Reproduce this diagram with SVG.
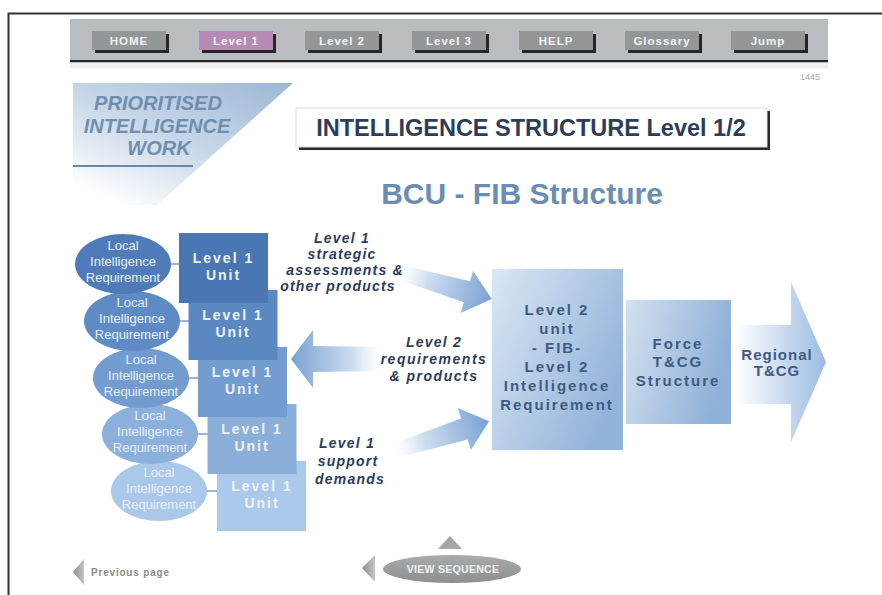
<svg xmlns="http://www.w3.org/2000/svg" width="882" height="595" viewBox="0 0 882 595">
  <defs>
    <style>
      text { font-family: "Liberation Sans", Arial, sans-serif; }
      .navtxt { font-size: 11.5px; font-weight: bold; fill: #f4f4f4; text-anchor: middle; letter-spacing: 1px; }
      .navbtn { fill: #939798; }
      .navshadow { fill: #262626; }
      .banner { font-size: 20px; font-weight: bold; font-style: italic; fill: #6f8fb0; text-anchor: middle; }
      .lir { font-size: 13px; fill: #e9f0f8; text-anchor: middle; }
      .unit { font-size: 14px; font-weight: bold; fill: #eef3fa; text-anchor: middle; letter-spacing: 2px; }
      .flow { font-size: 14px; font-weight: bold; font-style: italic; fill: #2b3d5c; text-anchor: middle; letter-spacing: 1.2px; }
      .flow.wide { letter-spacing: 1.5px; }
      .boxtxt { font-size: 15px; font-weight: bold; fill: #3e5b82; text-anchor: middle; letter-spacing: 2px; }
      .boxtxt.tight { letter-spacing: 1px; }
      .link { stroke: #3f6aa0; stroke-width: 1; }
    </style>
    <linearGradient id="bannerGrad" x1="1" y1="0" x2="0.2" y2="1">
      <stop offset="0" stop-color="#9db7d5"/>
      <stop offset="0.55" stop-color="#c9d8e8"/>
      <stop offset="1" stop-color="#ffffff"/>
    </linearGradient>
    <linearGradient id="flowGrad" x1="0" y1="0" x2="1" y2="0">
      <stop offset="0" stop-color="#ffffff" stop-opacity="0"/>
      <stop offset="0.35" stop-color="#cfdef0"/>
      <stop offset="1" stop-color="#7aa2d3"/>
    </linearGradient>
    <linearGradient id="regionGrad" x1="0" y1="0" x2="1" y2="0">
      <stop offset="0" stop-color="#ffffff"/>
      <stop offset="1" stop-color="#9cbbe0"/>
    </linearGradient>
    <linearGradient id="l2Grad" x1="0" y1="0" x2="1" y2="0.6">
      <stop offset="0" stop-color="#dbe7f4"/>
      <stop offset="1" stop-color="#92b3da"/>
    </linearGradient>
    <linearGradient id="forceGrad" x1="0" y1="0" x2="1" y2="0.3">
      <stop offset="0" stop-color="#d3e1f1"/>
      <stop offset="1" stop-color="#8fb0d8"/>
    </linearGradient>
    <linearGradient id="grayTri" x1="0" y1="0" x2="1" y2="0">
      <stop offset="0" stop-color="#8a8c8e"/>
      <stop offset="1" stop-color="#c4c6c8"/>
    </linearGradient>
    <linearGradient id="grayOval" x1="0" y1="0" x2="0" y2="1">
      <stop offset="0" stop-color="#a9abad"/>
      <stop offset="1" stop-color="#8c8e90"/>
    </linearGradient>
  </defs>

  <rect width="882" height="595" fill="#ffffff"/>

  <!-- page frame -->
  <path d="M8.5 595 V13.5 H882" fill="none" stroke="#333333" stroke-width="2"/>

  <!-- navigation bar -->
  <g id="navbar">
    <rect x="70" y="19" width="758" height="42" fill="#b9bdc0"/>
    <rect x="70" y="60" width="758" height="2.5" fill="#222222"/>
    <rect x="70" y="62.5" width="758" height="6" fill="#eef0f1"/>
    <g id="btn-home">
      <rect class="navshadow" x="95" y="34" width="74" height="19"/>
      <rect class="navbtn" x="92" y="31" width="74" height="19"/>
      <text class="navtxt" x="129" y="45">HOME</text>
    </g>
    <g id="btn-level1">
      <rect class="navshadow" x="202" y="34" width="74" height="19"/>
      <rect x="199" y="31" width="74" height="19" fill="#b68ab4"/>
      <text class="navtxt" x="236" y="45">Level 1</text>
    </g>
    <g id="btn-level2">
      <rect class="navshadow" x="308" y="34" width="74" height="19"/>
      <rect class="navbtn" x="305" y="31" width="74" height="19"/>
      <text class="navtxt" x="342" y="45">Level 2</text>
    </g>
    <g id="btn-level3">
      <rect class="navshadow" x="415" y="34" width="74" height="19"/>
      <rect class="navbtn" x="412" y="31" width="74" height="19"/>
      <text class="navtxt" x="449" y="45">Level 3</text>
    </g>
    <g id="btn-help">
      <rect class="navshadow" x="522" y="34" width="74" height="19"/>
      <rect class="navbtn" x="519" y="31" width="74" height="19"/>
      <text class="navtxt" x="556" y="45">HELP</text>
    </g>
    <g id="btn-glossary">
      <rect class="navshadow" x="628" y="34" width="74" height="19"/>
      <rect class="navbtn" x="625" y="31" width="74" height="19"/>
      <text class="navtxt" x="662" y="45">Glossary</text>
    </g>
    <g id="btn-jump">
      <rect class="navshadow" x="734" y="34" width="74" height="19"/>
      <rect class="navbtn" x="731" y="31" width="74" height="19"/>
      <text class="navtxt" x="768" y="45">Jump</text>
    </g>
  </g>
  <text x="810" y="80" font-size="9" fill="#aaaaaa" text-anchor="middle">1445</text>

  <!-- section banner -->
  <g id="banner">
    <polygon points="73,83 293,83 157,205 73,205" fill="url(#bannerGrad)"/>
    <text class="banner" x="158" y="110">PRIORITISED</text>
    <text class="banner" x="157" y="133">INTELLIGENCE</text>
    <text class="banner" x="159" y="155">WORK</text>
    <line x1="73" y1="166" x2="193" y2="166" stroke="#6a87a5" stroke-width="2"/>
  </g>

  <!-- page title -->
  <g id="title">
    <rect x="299" y="111" width="471" height="39" fill="#2a2a2a"/>
    <rect x="296" y="108" width="471" height="39" fill="#ffffff" stroke="#dddddd" stroke-width="1"/>
    <text x="531" y="136" font-size="23.5" font-weight="bold" fill="#2c3d5c" text-anchor="middle">INTELLIGENCE STRUCTURE Level 1/2</text>
  </g>
  <text id="subtitle" x="522" y="204" font-size="30" font-weight="bold" fill="#6a8db5" text-anchor="middle">BCU - FIB Structure</text>

  <!-- connectors: short links and flow arrows -->
  <g id="connectors">
    <line class="link" x1="170" y1="264" x2="179" y2="264"/>
    <line class="link" x1="179" y1="321" x2="189" y2="321"/>
    <line class="link" x1="188" y1="378" x2="198" y2="378"/>
    <line class="link" x1="197" y1="434" x2="208" y2="434"/>
    <line class="link" x1="206" y1="491" x2="217" y2="491"/>
    <!-- strategic assessments: Level 1 -> Level 2 -->
    <polygon transform="translate(392,270) rotate(16.2)" points="0,-7 78,-11 78,-22 104,0 78,22 78,11 0,7" fill="url(#flowGrad)"/>
    <!-- requirements: Level 2 -> Level 1 -->
    <polygon transform="translate(388,359) rotate(180)" points="0,-12 75,-13 75,-29 97,0 75,29 75,13 0,12" fill="url(#flowGrad)"/>
    <!-- support demands: Level 1 -> Level 2 -->
    <polygon transform="translate(388,453) rotate(-17.4)" points="0,-7 80,-11 80,-22 106,0 80,22 80,11 0,7" fill="url(#flowGrad)"/>
  </g>

  <!-- Level 1 units with local intelligence requirements (back to front) -->
  <g id="unit5">
    <rect x="217" y="461" width="89" height="70" fill="#abc9ea"/>
    <text class="unit" x="262" y="491">Level 1</text>
    <text class="unit" x="262" y="508">Unit</text>
  </g>
  <g id="lir5">
    <ellipse cx="159" cy="491" rx="48" ry="30" fill="#a9c8ea"/>
    <text class="lir" x="159" y="477">Local</text>
    <text class="lir" x="159" y="493">Intelligence</text>
    <text class="lir" x="159" y="509">Requirement</text>
  </g>
  <g id="unit4">
    <rect x="207.5" y="404" width="89" height="70" fill="#8cafda"/>
    <text class="unit" x="252" y="434">Level 1</text>
    <text class="unit" x="252" y="451">Unit</text>
  </g>
  <g id="lir4">
    <ellipse cx="150" cy="434" rx="48" ry="30" fill="#8bb0dc"/>
    <text class="lir" x="150" y="420">Local</text>
    <text class="lir" x="150" y="436">Intelligence</text>
    <text class="lir" x="150" y="452">Requirement</text>
  </g>
  <g id="unit3">
    <rect x="198" y="347" width="89" height="70" fill="#739dd0"/>
    <text class="unit" x="242.5" y="377">Level 1</text>
    <text class="unit" x="242.5" y="394">Unit</text>
  </g>
  <g id="lir3">
    <ellipse cx="141" cy="378" rx="48" ry="30" fill="#729cd0"/>
    <text class="lir" x="141" y="364">Local</text>
    <text class="lir" x="141" y="380">Intelligence</text>
    <text class="lir" x="141" y="396">Requirement</text>
  </g>
  <g id="unit2">
    <rect x="188.5" y="290" width="89" height="70" fill="#5c88c2"/>
    <text class="unit" x="233" y="320">Level 1</text>
    <text class="unit" x="233" y="337">Unit</text>
  </g>
  <g id="lir2">
    <ellipse cx="132" cy="321" rx="48" ry="30" fill="#5f8bc4"/>
    <text class="lir" x="132" y="307">Local</text>
    <text class="lir" x="132" y="323">Intelligence</text>
    <text class="lir" x="132" y="339">Requirement</text>
  </g>
  <g id="unit1">
    <rect x="179" y="233" width="89" height="70" fill="#4a77b3"/>
    <text class="unit" x="223.5" y="263">Level 1</text>
    <text class="unit" x="223.5" y="280">Unit</text>
  </g>
  <g id="lir1">
    <ellipse cx="123" cy="264" rx="48" ry="30" fill="#4f7cb8"/>
    <text class="lir" x="123" y="250">Local</text>
    <text class="lir" x="123" y="266">Intelligence</text>
    <text class="lir" x="123" y="282">Requirement</text>
  </g>

  <!-- flow labels -->
  <g id="label-strategic">
    <text class="flow" x="342" y="243">Level 1</text>
    <text class="flow" x="342" y="259">strategic</text>
    <text class="flow" x="345" y="275">assessments &amp;</text>
    <text class="flow" x="338" y="291">other products</text>
  </g>
  <g id="label-requirements">
    <text class="flow" x="434" y="347">Level 2</text>
    <text class="flow wide" x="434" y="364">requirements</text>
    <text class="flow wide" x="434" y="381">&amp; products</text>
  </g>
  <g id="label-support">
    <text class="flow" x="347" y="448">Level 1</text>
    <text class="flow" x="348" y="466">support</text>
    <text class="flow" x="350" y="484">demands</text>
  </g>

  <!-- Level 2 unit -->
  <g id="level2">
    <rect x="492" y="269" width="131" height="181" fill="url(#l2Grad)"/>
    <text class="boxtxt" x="557" y="315">Level 2</text>
    <text class="boxtxt" x="557" y="334">unit</text>
    <text class="boxtxt" x="557" y="353">- FIB-</text>
    <text class="boxtxt" x="557" y="372">Level 2</text>
    <text class="boxtxt" x="557" y="391">Intelligence</text>
    <text class="boxtxt" x="557" y="410">Requirement</text>
  </g>

  <!-- Force T&CG -->
  <g id="force">
    <rect x="626" y="300" width="105" height="124" fill="url(#forceGrad)"/>
    <text class="boxtxt" x="678" y="349">Force</text>
    <text class="boxtxt" x="678" y="367">T&amp;CG</text>
    <text class="boxtxt" x="678" y="386">Structure</text>
  </g>

  <!-- Regional T&CG -->
  <g id="regional">
    <polygon points="735,325 791,325 791,282 826,362 791,442 791,404 735,404" fill="url(#regionGrad)"/>
    <text class="boxtxt tight" x="777" y="360">Regional</text>
    <text class="boxtxt tight" x="777" y="376">T&amp;CG</text>
  </g>

  <!-- page navigation -->
  <g id="prev-page">
    <polygon points="73,572 84,559 84,585" fill="url(#grayTri)"/>
    <text x="91" y="576" font-size="10" font-weight="bold" fill="#8a8a8a" letter-spacing="0.8">Previous page</text>
  </g>
  <g id="view-sequence">
    <polygon points="362,568 375,555 375,582" fill="url(#grayTri)"/>
    <polygon points="450,536 438,549 462,549" fill="#a4a6a8"/>
    <ellipse cx="452" cy="569" rx="69" ry="14" fill="url(#grayOval)"/>
    <text x="453" y="573" font-size="10.5" font-weight="bold" fill="#f2f2f2" text-anchor="middle" letter-spacing="0.3">VIEW SEQUENCE</text>
  </g>
</svg>
